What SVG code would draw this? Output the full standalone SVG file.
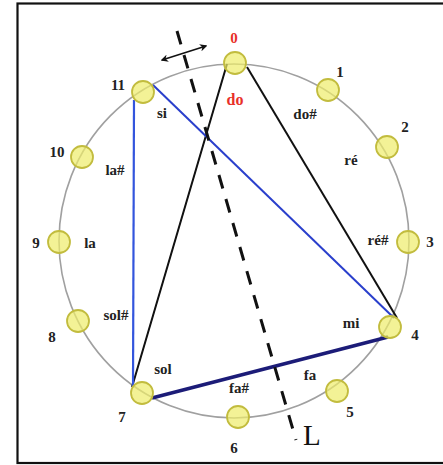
<svg xmlns="http://www.w3.org/2000/svg" width="443" height="465" viewBox="0 0 443 465">
<defs>
<style>
.lbl{font-family:"Liberation Serif","Times New Roman",serif;font-weight:bold;font-size:15px;fill:#222;text-anchor:middle}
.red{fill:#e8302a}
.node{fill:#eeec6a;fill-opacity:0.7;stroke:#c2bc3e;stroke-width:1.8}
.ring{fill:none;stroke:#a0a0a0;stroke-width:1.6}
</style>
<marker id="ah" viewBox="0 0 10 10" refX="8" refY="5" markerWidth="5" markerHeight="5" orient="auto-start-reverse">
<path d="M0,0 L10,5 L0,10 L3,5 Z" fill="#111"/>
</marker>
</defs>
<rect x="0" y="0" width="443" height="465" fill="#fff"/>
<rect x="17.5" y="3.5" width="432" height="459.5" fill="none" stroke="#111" stroke-width="2.2"/>
<ellipse class="ring" cx="234" cy="241" rx="175" ry="177"/>
<g id="connectors">
<line x1="227" y1="64" x2="132" y2="387" stroke="#111" stroke-width="2"/>
<line x1="247" y1="67" x2="397" y2="318" stroke="#111" stroke-width="2"/>
<line x1="134" y1="100" x2="133" y2="387" stroke="#3355dd" stroke-width="2.2"/>
<line x1="153" y1="85" x2="394" y2="318" stroke="#2a3fcc" stroke-width="2"/>
<line x1="152" y1="398" x2="388" y2="337" stroke="#1c1c78" stroke-width="3.6"/>
<line x1="177" y1="31" x2="296" y2="440" stroke="#111" stroke-width="3" stroke-dasharray="14 11"/>
<line x1="162" y1="60" x2="206" y2="46" stroke="#111" stroke-width="1.5" marker-start="url(#ah)" marker-end="url(#ah)"/>
</g>
<g id="n0"><circle class="node" cx="235" cy="63" r="11"/><text class="lbl red" x="234" y="43">0</text><text class="lbl red" x="235" y="105" style="font-size:16px">do</text></g>
<g id="n1"><circle class="node" cx="328" cy="90" r="11"/><text class="lbl" x="340" y="77">1</text><text class="lbl" x="305" y="119">do#</text></g>
<g id="n2"><circle class="node" cx="387" cy="147" r="11"/><text class="lbl" x="405" y="132">2</text><text class="lbl" x="351" y="165">ré</text></g>
<g id="n3"><circle class="node" cx="408" cy="242" r="11"/><text class="lbl" x="430" y="247">3</text><text class="lbl" x="378" y="245">ré#</text></g>
<g id="n4"><circle class="node" cx="390" cy="327" r="11"/><text class="lbl" x="415" y="340">4</text><text class="lbl" x="351" y="328">mi</text></g>
<g id="n5"><circle class="node" cx="337" cy="391" r="11"/><text class="lbl" x="350" y="417">5</text><text class="lbl" x="310" y="380">fa</text></g>
<g id="n6"><circle class="node" cx="238" cy="417" r="11"/><text class="lbl" x="234" y="453">6</text><text class="lbl" x="239" y="393">fa#</text></g>
<g id="n7"><circle class="node" cx="142" cy="393" r="11"/><text class="lbl" x="122" y="422">7</text><text class="lbl" x="163" y="374">sol</text></g>
<g id="n8"><circle class="node" cx="78" cy="321" r="11"/><text class="lbl" x="52" y="342">8</text><text class="lbl" x="116" y="320">sol#</text></g>
<g id="n9"><circle class="node" cx="59" cy="242" r="11"/><text class="lbl" x="36" y="248">9</text><text class="lbl" x="90" y="248">la</text></g>
<g id="n10"><circle class="node" cx="82" cy="157" r="11"/><text class="lbl" x="57" y="157">10</text><text class="lbl" x="115" y="175">la#</text></g>
<g id="n11"><circle class="node" cx="143" cy="92" r="11"/><text class="lbl" x="118" y="90">11</text><text class="lbl" x="162" y="118">si</text></g>
<text x="303" y="445" style="font-family:'Liberation Serif','Times New Roman',serif;font-size:29px;fill:#111">L</text>
</svg>
